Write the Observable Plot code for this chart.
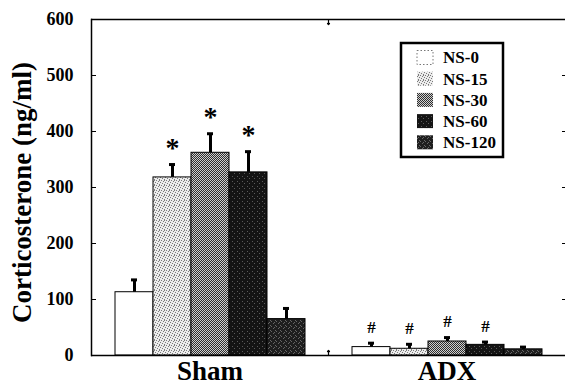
<!DOCTYPE html>
<html>
<head>
<meta charset="utf-8">
<script src="https://cdn.jsdelivr.net/npm/d3@7"></script>
<script src="https://cdn.jsdelivr.net/npm/@observablehq/plot@0.6"></script>
<style>
  html, body { margin: 0; padding: 0; background: white; }
</style>
</head>
<body>
<div id="chart"></div>
<script>
// ---- data ----
const groups = ["Sham", "ADX"];
const series = ["NS-0", "NS-15", "NS-30", "NS-60", "NS-120"];
const shamMean = [113, 318, 362, 327, 65];
const shamSem  = [22, 23, 34, 37, 19];
const adxMean  = [15, 12, 25, 19, 11];
const adxSem   = [7, 8, 7, 5, 4];
const shamMark = ["", "*", "*", "*", ""];
const adxMark  = ["#", "#", "#", "#", ""];
const yTicks = [0, 100, 200, 300, 400, 500, 600];
const yLabel = "Corticosterone (ng/ml)";

// fills (texture patterns defined below)
const fills = ["white", "url(#pat15)", "url(#pat30)", "url(#pat60)", "url(#pat120)"];

const rows = [];
series.forEach((s, i) => {
  rows.push({group: "Sham", series: s, mean: shamMean[i], sem: shamSem[i], mark: shamMark[i]});
});
series.forEach((s, i) => {
  rows.push({group: "ADX", series: s, mean: adxMean[i], sem: adxSem[i], mark: adxMark[i]});
});

const font = "'Liberation Serif', 'Times New Roman', serif";

const plot = Plot.plot({
  width: 565,
  height: 389,
  marginTop: 19,
  marginBottom: 34,
  marginLeft: 90,
  marginRight: 0,
  style: {fontFamily: font, fontWeight: "bold", background: "white", color: "black", overflow: "visible"},
  fx: {domain: groups, padding: 0, label: null},
  x: {domain: series, paddingInner: 0, paddingOuter: 0.55, axis: null},
  y: {domain: [0, 600], axis: null},
  color: {type: "ordinal", domain: series, range: fills},
  marks: [
    Plot.barY(rows, {fx: "group", x: "series", y: "mean", fill: "series", stroke: "black", strokeWidth: 1}),
    Plot.ruleX(rows, {fx: "group", x: "series", y1: "mean", y2: d => d.mean + d.sem, stroke: "black", strokeWidth: 3}),
    Plot.tickY(rows, {fx: "group", x: "series", y: d => d.mean + d.sem, stroke: "black", strokeWidth: 3, insetLeft: 16, insetRight: 16}),
    Plot.text(rows.filter(d => d.mark === "*"), {fx: "group", x: "series", y: d => d.mean + d.sem, text: "mark", fontSize: 28, dy: -17, fill: "black"}),
    Plot.text(rows.filter(d => d.mark === "#"), {fx: "group", x: "series", y: d => d.mean + d.sem, text: "mark", fontSize: 17, dy: -16, fill: "black"}),
    Plot.ruleY([0, 600], {stroke: "black", strokeWidth: 1.5}),
    Plot.frame({anchor: "left", facetAnchor: "left", stroke: "black", strokeWidth: 1.5}),
    Plot.axisY({anchor: "left", ticks: yTicks, tickSize: -5, tickPadding: 23, fontSize: 18, fontWeight: "bold", tickFormat: d => String(d), label: null}),
    Plot.axisY({anchor: "right", ticks: yTicks.slice(1, -1), tickSize: -4, tickFormat: () => "", label: null}),
    Plot.vector([0, 600], {fx: () => "Sham", y: d => d, frameAnchor: "right", length: 5, rotate: d => (d === 0 ? 0 : 180), anchor: "start", stroke: "black", strokeWidth: 1.2}),
    Plot.text([yLabel], {fx: () => "Sham", text: d => d, frameAnchor: "left", textAnchor: "middle", rotate: -90, dx: -69, dy: 5, fontSize: 27, fontWeight: "bold", fill: "black"}),
    Plot.axisFx({anchor: "bottom", tickSize: 0, tickPadding: 5, fontSize: 27, fontWeight: "bold", label: null})
  ]
});

const svg = d3.select(plot);

// texture patterns
const defs = svg.insert("defs", ":first-child");
function pattern(id, size, base, dot, pts) {
  const p = defs.append("pattern").attr("id", id).attr("patternUnits", "userSpaceOnUse")
    .attr("width", size).attr("height", size);
  p.append("rect").attr("width", size).attr("height", size).attr("fill", base);
  pts.forEach(([px, py]) => p.append("rect").attr("x", px).attr("y", py).attr("width", 1).attr("height", 1).attr("fill", dot));
}
pattern("pat15", 5, "#ececec", "#7a7a7a", [[0,0],[2,1],[4,2],[1,3],[3,4],[3,0]]);
pattern("pat30", 4, "#cfcfcf", "#2e2e2e", [[0,0],[1,1],[2,2],[3,3],[2,0],[0,2],[3,1],[1,3]]);
pattern("pat60", 5, "#141414", "#5a5a5a", [[1,1],[3,3]]);
pattern("pat120", 5, "#1e1e1e", "#666666", [[0,1],[2,3],[4,0],[3,2]]);

// legend (colours taken from the plot's color scale)
const color = plot.scale("color");
const lg = svg.append("g").attr("font-family", font).attr("font-weight", "bold").attr("text-anchor", "start");
lg.append("rect").attr("x", 401).attr("y", 43).attr("width", 102).attr("height", 114)
  .attr("fill", "white").attr("stroke", "black").attr("stroke-width", 2.5);
series.forEach((s, i) => {
  const cy = 57.5 + i * 21.2;
  lg.append("rect").attr("x", 417).attr("y", cy - 7).attr("width", 16).attr("height", 14)
    .attr("fill", color.apply(s))
    .attr("stroke", i === 0 ? "#777" : "none").attr("stroke-dasharray", i === 0 ? "1.5,2" : null);
  lg.append("text").attr("x", 443).attr("y", cy).attr("dy", "0.35em").attr("font-size", 17)
    .attr("text-anchor", "start").attr("fill", "black").text(s);
});

document.getElementById("chart").appendChild(plot);
</script>
</body>
</html>
